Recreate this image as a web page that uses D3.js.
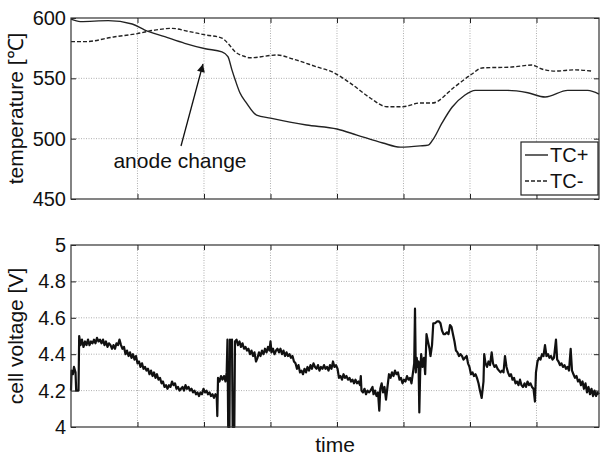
<!DOCTYPE html>
<html>
<head>
<meta charset="utf-8">
<script src="https://cdn.jsdelivr.net/npm/d3@7"></script>
<style>
  html, body { margin: 0; padding: 0; background: #fff; }
  svg { display: block; }
  text { font-family: "Liberation Sans", Arial, Helvetica, sans-serif; fill: #111; }
</style>
</head>
<body>
<svg id="chart" width="600" height="456"></svg>
<script>
// ---- data -------------------------------------------------------------
// time in arbitrary units (one grid division = 1)
const tcPlusTime = [0, 0.14, 0.56, 0.92, 1.11, 1.41, 1.71, 2.02, 2.27, 2.36, 2.42, 2.47, 2.54, 2.64, 2.79, 3.0, 3.54, 4.0, 4.3, 4.69, 4.95, 5.25, 5.37, 5.44, 5.58, 5.73, 5.92, 6.08, 6.57, 6.87, 7.13, 7.47, 7.77, 7.94];
const tcPlusTemp = [599, 597, 597.8, 595, 590, 584.5, 579, 574.5, 572, 568, 557, 548.6, 538, 529.5, 519.6, 517, 511.3, 508, 503, 496.4, 493, 494, 494.7, 499, 513, 526, 536, 540, 540, 538, 534.5, 540, 540, 537];

const tcMinusTime = [0, 0.21, 0.66, 0.99, 1.26, 1.52, 1.76, 2.02, 2.27, 2.36, 2.47, 2.62, 2.69, 3.1, 3.34, 3.7, 3.94, 4.2, 4.5, 4.75, 4.99, 5.25, 5.43, 5.77, 6.03, 6.18, 6.63, 6.93, 7.08, 7.28, 7.58, 7.83];
const tcMinusTemp = [580.4, 580.4, 584.5, 587, 590, 591.4, 589, 586, 583.4, 579, 572, 568, 567, 569.3, 566, 559.4, 555, 546, 533.7, 526.5, 526.5, 529.6, 529.5, 543, 553.6, 558.6, 559.4, 561, 557.7, 556, 557, 556];

const voltTime = [
  0.000, 0.009, 0.030, 0.045, 0.068, 0.078, 0.113, 0.123, 0.143, 0.165,
  0.188, 0.211, 0.233, 0.256, 0.278, 0.301, 0.323, 0.346, 0.368, 0.391,
  0.414, 0.436, 0.459, 0.481, 0.504, 0.526, 0.549, 0.571, 0.594, 0.617,
  0.639, 0.662, 0.684, 0.707, 0.729, 0.752, 0.774, 0.797, 0.820, 0.842,
  0.865, 0.887, 0.910, 0.932, 0.955, 0.977, 1.000, 1.023, 1.045, 1.068,
  1.090, 1.113, 1.135, 1.158, 1.180, 1.203, 1.226, 1.248, 1.271, 1.293,
  1.316, 1.338, 1.361, 1.383, 1.406, 1.429, 1.451, 1.474, 1.496, 1.519,
  1.541, 1.564, 1.586, 1.609, 1.632, 1.654, 1.677, 1.699, 1.722, 1.744,
  1.767, 1.789, 1.812, 1.835, 1.857, 1.880, 1.902, 1.925, 1.947, 1.970,
  1.992, 2.015, 2.038, 2.060, 2.083, 2.105, 2.128, 2.150, 2.173, 2.191,
  2.200, 2.211, 2.233, 2.256, 2.278, 2.301, 2.323, 2.341, 2.353, 2.364,
  2.383, 2.391, 2.406, 2.421, 2.431, 2.456, 2.466, 2.489, 2.511, 2.534,
  2.556, 2.579, 2.602, 2.624, 2.647, 2.669, 2.692, 2.714, 2.737, 2.759,
  2.782, 2.805, 2.827, 2.850, 2.872, 2.895, 2.917, 2.940, 2.962, 2.985,
  3.000, 3.015, 3.038, 3.060, 3.083, 3.105, 3.128, 3.150, 3.173, 3.195,
  3.218, 3.241, 3.263, 3.286, 3.308, 3.331, 3.353, 3.376, 3.398, 3.421,
  3.444, 3.466, 3.489, 3.511, 3.534, 3.556, 3.579, 3.602, 3.624, 3.647,
  3.669, 3.692, 3.714, 3.737, 3.759, 3.782, 3.805, 3.827, 3.850, 3.872,
  3.895, 3.917, 3.940, 3.962, 3.985, 4.008, 4.030, 4.053, 4.075, 4.098,
  4.120, 4.143, 4.165, 4.188, 4.211, 4.233, 4.256, 4.278, 4.301, 4.323,
  4.346, 4.358, 4.368, 4.391, 4.414, 4.436, 4.459, 4.481, 4.504, 4.534,
  4.549, 4.571, 4.594, 4.617, 4.636, 4.651, 4.672, 4.692, 4.714, 4.737,
  4.759, 4.782, 4.805, 4.827, 4.850, 4.872, 4.895, 4.917, 4.940, 4.962,
  4.985, 5.008, 5.030, 5.053, 5.075, 5.098, 5.120, 5.143, 5.161, 5.173,
  5.185, 5.199, 5.211, 5.226, 5.238, 5.251, 5.266, 5.286, 5.308, 5.326,
  5.346, 5.368, 5.391, 5.406, 5.429, 5.448, 5.474, 5.504, 5.534, 5.556,
  5.579, 5.602, 5.624, 5.654, 5.677, 5.699, 5.722, 5.744, 5.767, 5.789,
  5.812, 5.835, 5.857, 5.880, 5.902, 5.925, 5.950, 5.970, 5.992, 6.015,
  6.038, 6.060, 6.083, 6.105, 6.128, 6.150, 6.176, 6.203, 6.214, 6.233,
  6.256, 6.278, 6.301, 6.326, 6.346, 6.368, 6.391, 6.414, 6.436, 6.459,
  6.481, 6.504, 6.526, 6.549, 6.571, 6.594, 6.617, 6.639, 6.662, 6.684,
  6.707, 6.729, 6.752, 6.774, 6.797, 6.820, 6.842, 6.865, 6.887, 6.910,
  6.932, 6.955, 6.977, 6.992, 7.015, 7.038, 7.060, 7.083, 7.105, 7.128,
  7.150, 7.173, 7.195, 7.218, 7.241, 7.263, 7.293, 7.311, 7.331, 7.353,
  7.376, 7.398, 7.421, 7.444, 7.466, 7.489, 7.514, 7.534, 7.556, 7.579,
  7.602, 7.624, 7.647, 7.669, 7.692, 7.714, 7.737, 7.759, 7.782, 7.805,
  7.827, 7.850, 7.872, 7.895, 7.917, 7.940
];
const voltValue = [
  4.20, 4.31, 4.29, 4.33, 4.30, 4.20, 4.20, 4.50, 4.45, 4.48,
  4.44, 4.47, 4.45, 4.48, 4.45, 4.47, 4.46, 4.48, 4.46, 4.49,
  4.47, 4.48, 4.46, 4.48, 4.45, 4.47, 4.44, 4.46, 4.45, 4.43,
  4.45, 4.43, 4.46, 4.45, 4.48, 4.45, 4.43, 4.44, 4.40, 4.42,
  4.39, 4.41, 4.38, 4.40, 4.37, 4.39, 4.35, 4.36, 4.33, 4.35,
  4.32, 4.33, 4.31, 4.32, 4.29, 4.31, 4.28, 4.30, 4.27, 4.29,
  4.26, 4.27, 4.24, 4.25, 4.22, 4.23, 4.21, 4.23, 4.22, 4.25,
  4.23, 4.24, 4.21, 4.22, 4.20, 4.21, 4.22, 4.20, 4.23, 4.21,
  4.22, 4.20, 4.21, 4.19, 4.20, 4.18, 4.19, 4.17, 4.19, 4.18,
  4.21, 4.19, 4.20, 4.18, 4.19, 4.17, 4.18, 4.16, 4.18, 4.17,
  4.06, 4.27, 4.25, 4.28, 4.26, 4.28, 4.25, 4.30, 4.48, 4.00,
  4.00, 4.48, 4.44, 4.48, 4.00, 4.00, 4.47, 4.48, 4.45, 4.47,
  4.44, 4.46, 4.43, 4.44, 4.42, 4.43, 4.40, 4.42, 4.39, 4.41,
  4.36, 4.38, 4.41, 4.39, 4.42, 4.40, 4.43, 4.41, 4.44, 4.42,
  4.47, 4.41, 4.43, 4.40, 4.42, 4.43, 4.41, 4.43, 4.40, 4.42,
  4.39, 4.41, 4.39, 4.40, 4.38, 4.39, 4.36, 4.35, 4.32, 4.34,
  4.30, 4.31, 4.29, 4.32, 4.30, 4.33, 4.31, 4.34, 4.32, 4.35,
  4.33, 4.32, 4.34, 4.31, 4.33, 4.32, 4.34, 4.32, 4.33, 4.31,
  4.34, 4.32, 4.36, 4.33, 4.34, 4.32, 4.27, 4.28, 4.26, 4.29,
  4.27, 4.28, 4.26, 4.27, 4.25, 4.26, 4.24, 4.26, 4.24, 4.25,
  4.23, 4.28, 4.20, 4.19, 4.21, 4.18, 4.20, 4.19, 4.20, 4.22,
  4.18, 4.20, 4.17, 4.19, 4.09, 4.21, 4.24, 4.19, 4.22, 4.15,
  4.22, 4.29, 4.27, 4.30, 4.28, 4.31, 4.29, 4.30, 4.26, 4.27,
  4.24, 4.26, 4.25, 4.28, 4.26, 4.27, 4.24, 4.30, 4.35, 4.65,
  4.30, 4.38, 4.33, 4.36, 4.08, 4.30, 4.40, 4.33, 4.38, 4.29,
  4.51, 4.47, 4.43, 4.39, 4.45, 4.57, 4.57, 4.58, 4.58, 4.57,
  4.53, 4.51, 4.51, 4.52, 4.51, 4.56, 4.55, 4.51, 4.47, 4.42,
  4.41, 4.39, 4.40, 4.39, 4.37, 4.38, 4.39, 4.35, 4.33, 4.29,
  4.30, 4.28, 4.29, 4.27, 4.24, 4.20, 4.16, 4.25, 4.40, 4.35,
  4.33, 4.36, 4.34, 4.41, 4.35, 4.33, 4.34, 4.32, 4.31, 4.30,
  4.31, 4.30, 4.39, 4.33, 4.30, 4.28, 4.29, 4.26, 4.27, 4.24,
  4.25, 4.23, 4.26, 4.23, 4.22, 4.24, 4.22, 4.25, 4.23, 4.24,
  4.22, 4.21, 4.14, 4.30, 4.36, 4.38, 4.37, 4.40, 4.39, 4.45,
  4.39, 4.40, 4.38, 4.39, 4.37, 4.38, 4.48, 4.37, 4.36, 4.34,
  4.35, 4.33, 4.34, 4.32, 4.33, 4.31, 4.43, 4.31, 4.29, 4.27,
  4.28, 4.25, 4.26, 4.23, 4.25, 4.21, 4.24, 4.19, 4.22, 4.18,
  4.21, 4.17, 4.20, 4.17, 4.19, 4.18
];

const gridTimes = [1, 2, 3, 4, 5, 6, 7];
const tempTicks = [450, 500, 550, 600];
const voltTicks = [4, 4.2, 4.4, 4.6, 4.8, 5];
const legendLabels = ["TC+", "TC-"];

// ---- layout -----------------------------------------------------------
const svg = d3.select("#chart");
const left = 71, right = 599;
const top1 = 18, bottom1 = 199;
const top2 = 245, bottom2 = 427;
const tickFont = 20, labelFont = 21;

const x = d3.scaleLinear().domain([0, 7.94]).range([left, right]);
const yT = d3.scaleLinear().domain([450, 600]).range([bottom1, top1]);
const yV = d3.scaleLinear().domain([4, 5]).range([bottom2, top2]);

function panel(y, ticks, fmt, yTop, yBot) {
  const g = svg.append("g");
  // dotted grid
  g.selectAll(".vg").data(gridTimes).join("line")
    .attr("x1", d => x(d)).attr("x2", d => x(d))
    .attr("y1", yTop).attr("y2", yBot)
    .attr("stroke", "#9a9a9a").attr("stroke-width", 0.8).attr("stroke-dasharray", "1,1.5");
  g.selectAll(".hg").data(ticks.slice(1, -1)).join("line")
    .attr("x1", left).attr("x2", right)
    .attr("y1", d => y(d)).attr("y2", d => y(d))
    .attr("stroke", "#9a9a9a").attr("stroke-width", 0.8).attr("stroke-dasharray", "1,1.5");
  // left axis with labels and inward ticks
  const ax = g.append("g").attr("transform", `translate(${left},0)`)
    .call(d3.axisLeft(y).tickValues(ticks).tickFormat(fmt).tickSize(-5).tickPadding(5));
  ax.select(".domain").remove();
  ax.selectAll("line").attr("stroke", "#222");
  ax.selectAll("text").attr("font-size", tickFont).attr("fill", "#111")
    .attr("font-family", "'Liberation Sans', Arial, sans-serif");
  // right-side inward ticks
  g.append("g").attr("transform", `translate(${right},0)`)
    .call(d3.axisRight(y).tickValues(ticks).tickFormat("").tickSize(-5))
    .call(s => s.select(".domain").remove())
    .selectAll("line").attr("stroke", "#222");
  // bottom and top inward ticks
  g.append("g").attr("transform", `translate(0,${yBot})`)
    .call(d3.axisBottom(x).tickValues(gridTimes).tickFormat("").tickSize(-5))
    .call(s => s.select(".domain").remove())
    .selectAll("line").attr("stroke", "#222");
  g.append("g").attr("transform", `translate(0,${yTop})`)
    .call(d3.axisTop(x).tickValues(gridTimes).tickFormat("").tickSize(-5))
    .call(s => s.select(".domain").remove())
    .selectAll("line").attr("stroke", "#222");
  return g;
}

// ---- temperature panel ------------------------------------------------
const g1 = panel(yT, tempTicks, d3.format("d"), top1, bottom1);

const plusData = tcPlusTime.map((t, i) => [t, tcPlusTemp[i]]);
const minusData = tcMinusTime.map((t, i) => [t, tcMinusTemp[i]]);
const tLine = d3.line().x(d => x(d[0])).y(d => yT(d[1])).curve(d3.curveMonotoneX);

g1.append("path").datum(minusData).attr("d", tLine)
  .attr("fill", "none").attr("stroke", "#222").attr("stroke-width", 1.4)
  .attr("stroke-dasharray", "4,2");
g1.append("path").datum(plusData).attr("d", tLine)
  .attr("fill", "none").attr("stroke", "#222").attr("stroke-width", 1.4);

g1.append("rect").attr("x", left).attr("y", top1)
  .attr("width", right - left).attr("height", bottom1 - top1)
  .attr("fill", "none").attr("stroke", "#333").attr("stroke-width", 1.2);

// annotation arrow pointing at the anode change
const defs = svg.append("defs");
defs.append("marker").attr("id", "arrowhead").attr("viewBox", "0 0 10 10")
  .attr("refX", 10).attr("refY", 5).attr("markerWidth", 10).attr("markerHeight", 8)
  .attr("markerUnits", "userSpaceOnUse").attr("orient", "auto")
  .append("path").attr("d", "M0,0 L10,5 L0,10 z").attr("fill", "#111");
g1.append("line")
  .attr("x1", 181).attr("y1", 146)
  .attr("x2", 203).attr("y2", 64)
  .attr("stroke", "#111").attr("stroke-width", 1.3)
  .attr("marker-end", "url(#arrowhead)");
g1.append("text").attr("x", 180).attr("y", 168).attr("text-anchor", "middle")
  .attr("font-size", labelFont).text("anode change");

// legend
const lg = g1.append("g");
lg.append("rect").attr("x", 521).attr("y", 142).attr("width", 77).attr("height", 53)
  .attr("fill", "#fff").attr("stroke", "#222").attr("stroke-width", 1.2);
legendLabels.forEach((lab, i) => {
  const ly = 155 + i * 26;
  lg.append("line").attr("x1", 525).attr("x2", 548).attr("y1", ly).attr("y2", ly)
    .attr("stroke", "#222").attr("stroke-width", 1.4)
    .attr("stroke-dasharray", i === 1 ? "4,2" : null);
  lg.append("text").attr("x", 550).attr("y", ly).attr("dy", "0.35em")
    .attr("font-size", tickFont).text(lab);
});

svg.append("text")
  .attr("transform", `translate(23,${(top1 + bottom1) / 2}) rotate(-90)`)
  .attr("text-anchor", "middle").attr("font-size", labelFont).text("temperature [℃]");

// ---- voltage panel ----------------------------------------------------
const g2 = panel(yV, voltTicks, d => d3.format("")(d), top2, bottom2);
const voltData = voltTime.map((t, i) => [t, voltValue[i]]);
const vLine = d3.line().x(d => x(d[0])).y(d => yV(d[1]));
g2.append("path").datum(voltData).attr("d", vLine)
  .attr("fill", "none").attr("stroke", "#111").attr("stroke-width", 2.2)
  .attr("stroke-linejoin", "round");
g2.append("rect").attr("x", left).attr("y", top2)
  .attr("width", right - left).attr("height", bottom2 - top2)
  .attr("fill", "none").attr("stroke", "#333").attr("stroke-width", 1.2);

svg.append("text")
  .attr("transform", `translate(23,${(top2 + bottom2) / 2}) rotate(-90)`)
  .attr("text-anchor", "middle").attr("font-size", labelFont).text("cell voltage [V]");

svg.append("text").attr("x", (left + right) / 2).attr("y", 452)
  .attr("text-anchor", "middle").attr("font-size", labelFont).text("time");
</script>
</body>
</html>
